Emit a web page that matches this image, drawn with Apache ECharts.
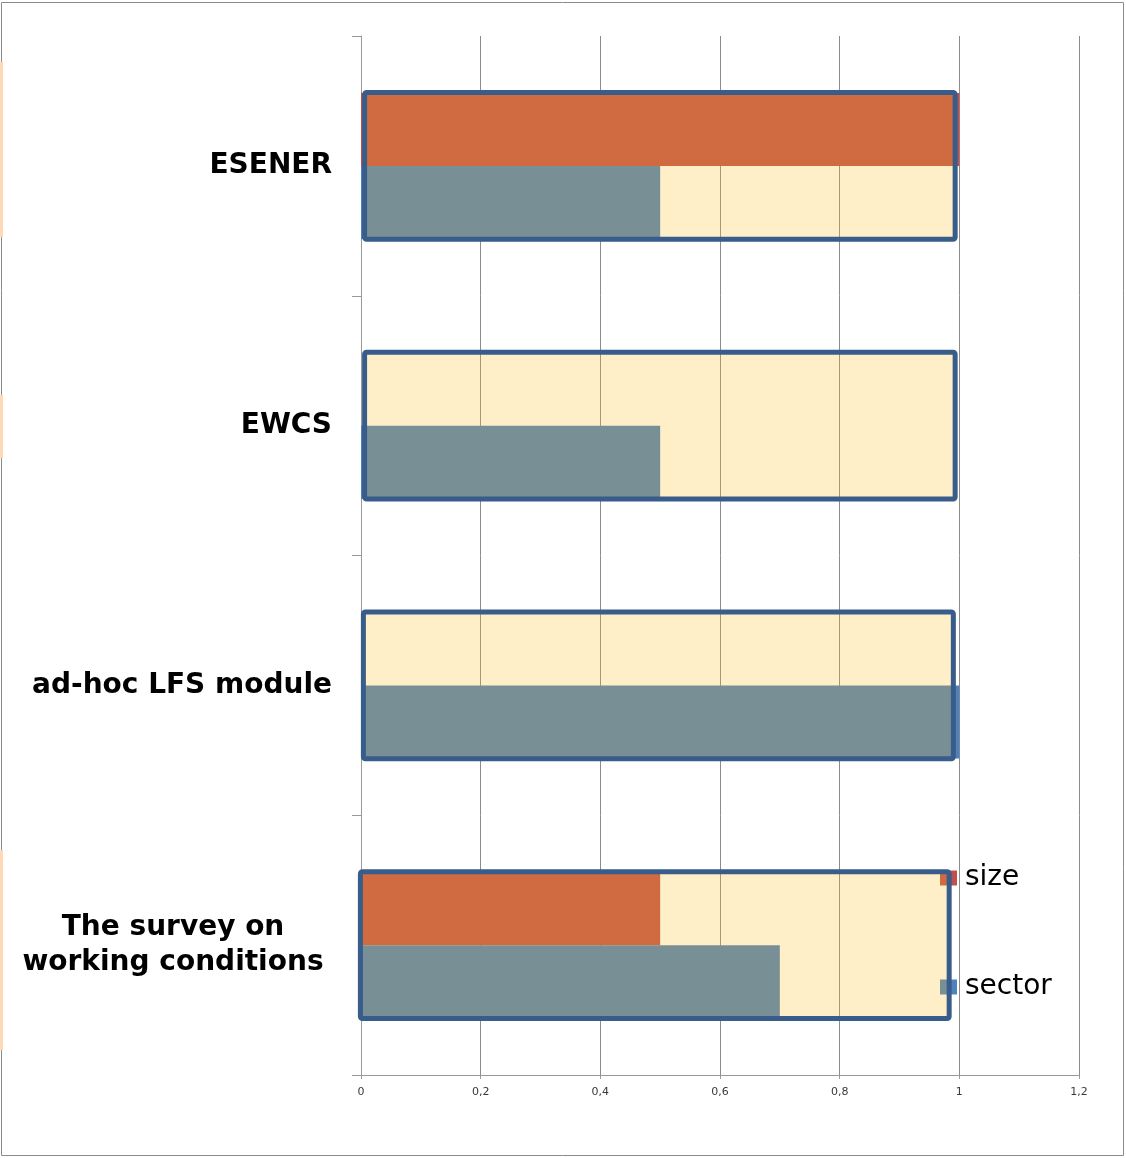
<!DOCTYPE html>
<html>
<head>
<meta charset="utf-8">
<script src="https://cdn.jsdelivr.net/npm/echarts@6/dist/echarts.min.js"></script>
<style>
    html, body { margin: 0; padding: 0; background: #fff; }
    #chart { width: 1126px; height: 1158px; }
</style>
</head>
<body>
<div id="chart"></div>
<script>
    // categories listed bottom -> top (category axis starts at the bottom)
    var categories = ['The survey on\nworking conditions', 'ad-hoc LFS module', 'EWCS', 'ESENER']
    var sizeData = [0.5, 0, 0, 1]
    var sectorData = [0.7, 1, 0.5, 0.5]
    // the highlight boxes drawn over each survey: [start, end]
    var frameStart = [-0.001, 0.004, 0.006, 0.006]
    var frameEnd = [0.983, 0.99, 0.993, 0.993]

    var frameData = categories.map(function (c, i) {
        return [frameStart[i], frameEnd[i], i]
    })

    var myChart = echarts.init(document.getElementById('chart'))
    var option = {
        animation: false,
        color: ['#C0504D', '#4F81BD'],
        grid: {
            left: 361,
            right: 47,
            top: 36,
            bottom: 83
        },
        legend: {
            orient: 'vertical',
            left: 940,
            top: 864,
            padding: 0,
            itemWidth: 17,
            itemHeight: 15,
            itemGap: 81,
            icon: 'rect',
            data: ['size', 'sector'],
            textStyle: {
                fontFamily: 'DejaVu Sans',
                fontSize: 28,
                color: '#000',
                padding: [0, 0, 0, 3]
            }
        },
        xAxis: {
            type: 'value',
            min: 0,
            max: 1.2,
            interval: 0.2,
            axisLine: { show: true, lineStyle: { color: '#9a9a9a', width: 1 } },
            axisTick: { show: true, length: 4, lineStyle: { color: '#9a9a9a' } },
            splitLine: { show: true, lineStyle: { color: '#8c8c8c', width: 1 } },
            axisLabel: {
                margin: 12,
                fontFamily: 'DejaVu Sans',
                fontSize: 11,
                color: '#3a3a3a',
                formatter: function (v) {
                    return String(+v.toFixed(1)).replace('.', ',')
                }
            }
        },
        yAxis: {
            type: 'category',
            data: categories,
            axisLine: { show: true, lineStyle: { color: '#9a9a9a', width: 1 } },
            axisTick: { show: true, length: 9, lineStyle: { color: '#9a9a9a' } },
            axisLabel: {
                margin: 29,
                fontFamily: 'DejaVu Sans',
                fontWeight: 'bold',
                fontSize: 28,
                color: '#000',
                formatter: function (v) {
                    if (v.indexOf('\n') < 0) return v
                    return v.split('\n').map(function (s) { return '{c|' + s + '}' }).join('\n')
                },
                rich: {
                    c: {
                        width: 302,
                        align: 'center',
                        padding: [0, 8, 0, 0],
                        fontFamily: 'DejaVu Sans',
                        fontWeight: 'bold',
                        fontSize: 28,
                        lineHeight: 35,
                        color: '#000'
                    }
                }
            }
        },
        series: [
            {
                name: 'size',
                type: 'bar',
                barWidth: 73,
                barGap: '0%',
                data: sizeData
            },
            {
                name: 'sector',
                type: 'bar',
                barWidth: 73,
                barGap: '0%',
                data: sectorData
            },
            {
                name: 'frame',
                type: 'custom',
                z: 10,
                encode: { x: [0, 1], y: 2 },
                data: frameData,
                renderItem: function (params, api) {
                    var p0 = api.coord([api.value(0), api.value(2)])
                    var p1 = api.coord([api.value(1), api.value(2)])
                    var h = api.size([0, 1])[1] * 0.565
                    return {
                        type: 'rect',
                        shape: { x: p0[0], y: p0[1] - h / 2, width: p1[0] - p0[0], height: h, r: 2 },
                        style: {
                            fill: 'rgba(255,190,30,0.244)',
                            stroke: '#385D8A',
                            lineWidth: 5
                        }
                    }
                }
            }
        ],
        graphic: [
            { type: 'rect', shape: { x: 1.5, y: 2.5, width: 1122, height: 1153 }, style: { fill: 'none', stroke: '#8a8a8a', lineWidth: 1 } },
            { type: 'rect', shape: { x: 0, y: 62, width: 3, height: 175 }, style: { fill: '#FFD9B3' } },
            { type: 'rect', shape: { x: 0, y: 395, width: 3, height: 63 }, style: { fill: '#FFD9B3' } },
            { type: 'rect', shape: { x: 0, y: 850, width: 3, height: 200 }, style: { fill: '#FFD9B3' } }
        ]
    }
    myChart.setOption(option)
</script>
</body>
</html>
